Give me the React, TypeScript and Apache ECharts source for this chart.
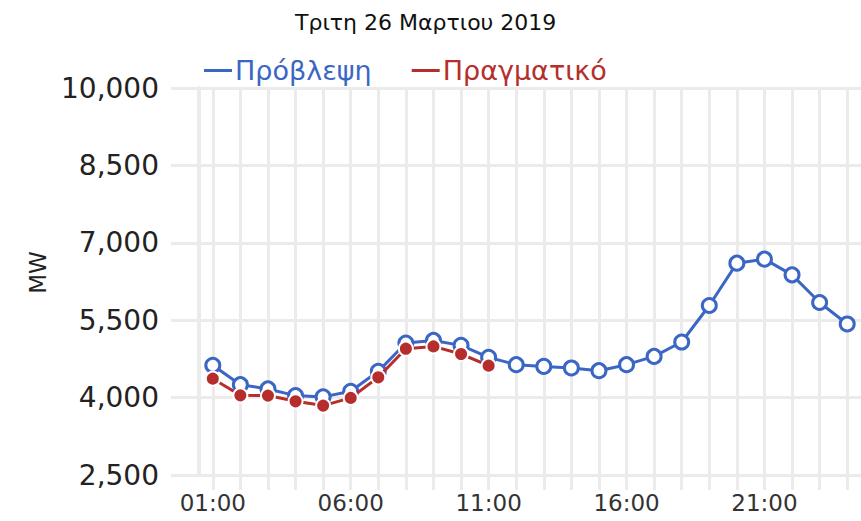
import React, { useEffect, useRef } from "react";
import * as echarts from "echarts";

const hours = [
  "01:00", "02:00", "03:00", "04:00", "05:00", "06:00", "07:00", "08:00",
  "09:00", "10:00", "11:00", "12:00", "13:00", "14:00", "15:00", "16:00",
  "17:00", "18:00", "19:00", "20:00", "21:00", "22:00", "23:00", "24:00",
];
const forecast = [
  4625, 4251, 4168, 4039, 4014, 4122, 4509, 5058, 5108, 5012, 4780, 4638,
  4605, 4574, 4522, 4638, 4798, 5077, 5785, 6605, 6683, 6379, 5843, 5427,
];
const actual = [
  4367, 4044, 4039, 3928, 3845, 3994, 4393, 4948, 4992, 4845, 4619,
];
const titleText = "Τριτη 26 Μαρτιου 2019";
const seriesNames = ["Πρόβλεψη", "Πραγματικό"];
const yName = "MW";

const BLUE = "#3b66c4";
const RED = "#b52e2c";
const GRID = "#ebebeb";
const FONT = "DejaVu Sans";

export default function App() {
  const ref = useRef<HTMLDivElement>(null);
  useEffect(() => {
    if (!ref.current) return;
    const chart = echarts.init(ref.current, null, { renderer: "svg" });
    chart.setOption({
      animation: false,
      backgroundColor: "#ffffff",
      title: {
        text: titleText,
        left: 290,
        top: 6,
        textStyle: { fontFamily: FONT, fontSize: 22, fontWeight: "normal", color: "#111" },
      },
      legend: {
        left: 199,
        top: 52,
        icon: "rect",
        itemWidth: 28,
        itemHeight: 3,
        itemGap: 40,
        textStyle: { fontFamily: FONT, fontSize: 27, padding: [0, 0, 0, -2] },
        data: [
          {
            name: seriesNames[0],
            textStyle: { color: BLUE },
            itemStyle: { color: BLUE, borderWidth: 0 },
          },
          {
            name: seriesNames[1],
            textStyle: { color: RED },
            itemStyle: { color: RED, borderWidth: 0 },
          },
        ],
      },
      grid: { left: 199, right: -5, top: 88, bottom: 46, containLabel: false },
      xAxis: {
        type: "category",
        data: hours,
        boundaryGap: true,
        axisLine: { show: true, lineStyle: { color: GRID, width: 3 } },
        axisTick: { show: true, alignWithLabel: true, interval: 0, length: 15, lineStyle: { color: GRID, width: 3 } },
        axisLabel: { interval: 4, margin: 16, fontFamily: FONT, fontSize: 23, color: "#333" },
        splitLine: { show: true, alignWithLabel: true, interval: 0, lineStyle: { color: GRID, width: 3 } },
      },
      yAxis: {
        type: "value",
        min: 2500,
        max: 10000,
        interval: 1500,
        name: yName,
        nameLocation: "middle",
        nameGap: 150,
        nameTextStyle: { fontFamily: FONT, fontSize: 23, color: "#222", padding: [0, 0, 0, 18] },
        axisLine: { show: true, lineStyle: { color: GRID, width: 4 } },
        axisTick: { show: true, length: 28, lineStyle: { color: GRID, width: 3 } },
        axisLabel: {
          margin: 40,
          fontFamily: FONT,
          fontSize: 28,
          color: "#222",
          formatter: (v: number) => v.toLocaleString("en-US"),
        },
        splitLine: { show: true, lineStyle: { color: GRID, width: 3 } },
      },
      series: [
        {
          name: seriesNames[0],
          type: "line",
          data: forecast,
          symbol: "circle",
          symbolSize: 14,
          lineStyle: { color: BLUE, width: 3 },
          itemStyle: { color: "#ffffff", borderColor: BLUE, borderWidth: 3 },
          z: 2,
        },
        {
          name: seriesNames[1],
          type: "line",
          data: actual,
          symbol: "circle",
          symbolSize: 14,
          lineStyle: { color: RED, width: 3 },
          itemStyle: { color: RED, borderColor: "#ffffff", borderWidth: 2 },
          z: 3,
        },
      ],
    });
    return () => chart.dispose();
  }, []);
  return (
    <div
      ref={ref}
      style={{ position: "fixed", left: 0, top: 0, width: 861, height: 521 }}
    />
  );
}
